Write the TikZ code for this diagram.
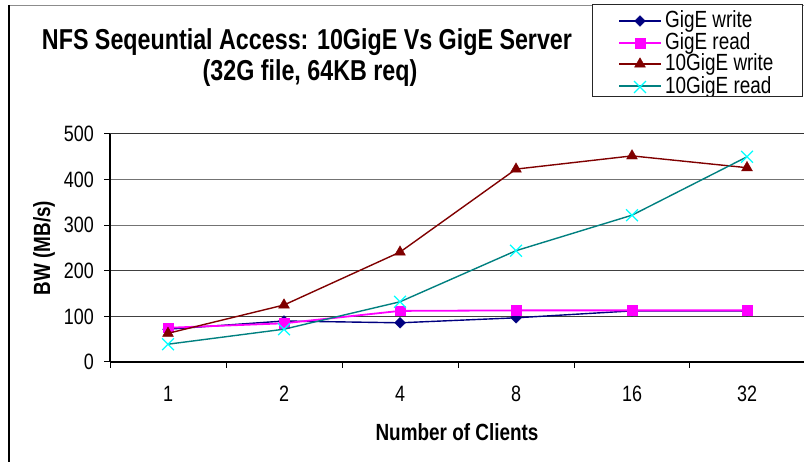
\documentclass[tikz,border=0pt]{standalone}
\usepackage{fontspec}
\usepackage{graphicx}
\setmainfont{Liberation Sans}
\usetikzlibrary{shapes.geometric,shapes.misc}
\definecolor{navyc}{RGB}{0,0,128}
\definecolor{magc}{RGB}{255,0,255}
\definecolor{redc}{RGB}{128,0,0}
\definecolor{tealc}{RGB}{0,128,128}
\definecolor{cyanc}{RGB}{0,255,255}
\newcommand{\vst}[1]{\scalebox{0.97}[1.2]{#1}}
\tikzset{
  gwmark/.style={diamond,fill=navyc,draw=navyc,inner sep=0pt,minimum width=11pt,minimum height=11pt},
  grmark/.style={rectangle,fill=magc,draw=magc,inner sep=0pt,minimum size=9.5pt},
  twmark/.style={regular polygon,regular polygon sides=3,fill=redc,draw=redc,inner sep=0pt,minimum size=12.5pt},
  trmark/.style={cross out,draw=cyanc,line width=1.3pt,inner sep=0pt,minimum size=10.5pt},
  gwline/.style={navyc,line width=1.4pt},
  grline/.style={magc,line width=1.8pt},
  twline/.style={redc,line width=1.4pt},
  trline/.style={tealc,line width=1.4pt},
  ticklab/.style={inner sep=0pt,font=\fontsize{18.5}{20}\selectfont},
  axtitle/.style={inner sep=0pt,font=\bfseries\fontsize{19.5}{22}\selectfont},
  legtext/.style={anchor=west,inner sep=0pt,font=\fontsize{19.5}{21}\selectfont},
  grid/.style={black!75,line width=0.9pt}
}
\begin{document}
\begin{tikzpicture}[x=1pt,y=-1pt]
\useasboundingbox (0,0) rectangle (804,462);
\fill[white] (0,0) rectangle (804,462);
% chart frame
\draw[black!45,line width=0.8pt] (9,5) -- (804,5);
\draw[black,line width=1.2pt] (9,5) -- (9,462);
% title
\node[inner sep=0pt,font=\bfseries\fontsize{24}{26}\selectfont] (title1) at (307,42)
  {\vst{NFS Seqeuntial Access: 10GigE Vs GigE Server}};
\node[inner sep=0pt,font=\bfseries\fontsize{24}{26}\selectfont] (title2) at (310,73)
  {\vst{(32G file, 64KB req)}};
% gridlines
\draw[grid] (110,316.4) -- (804,316.4);
\draw[grid] (110,270.8) -- (804,270.8);
\draw[black!55,line width=1.1pt] (110,225.2) -- (804,225.2);
\draw[black!55,line width=1pt] (110,179.6) -- (804,179.6);
\draw[black!80,line width=1pt] (110,133.5) -- (804,133.5);
% axes
\draw[black,line width=1.2pt] (110,134) -- (110,362);
\draw[black,line width=1.2pt] (110,362) -- (804,362);
\foreach \yy in {134,179.6,225.2,270.8,316.4,362} \draw[black,line width=1pt] (104,\yy) -- (110,\yy);
\foreach \xx in {110,226,342,458,574,689} \draw[black,line width=1pt] (\xx,362) -- (\xx,368);
% y tick labels
\node[ticklab,anchor=east] (y500) at (94,134) {\vst{500}};
\node[ticklab,anchor=east] (y400) at (94,179.6) {\vst{400}};
\node[ticklab,anchor=east] (y300) at (94,225.2) {\vst{300}};
\node[ticklab,anchor=east] (y200) at (94,270.8) {\vst{200}};
\node[ticklab,anchor=east] (y100) at (94,316.4) {\vst{100}};
\node[ticklab,anchor=east] (y0) at (94,362) {\vst{0}};
% x tick labels
\node[ticklab] (x1) at (168,394) {\vst{1}};
\node[ticklab] (x2) at (284,394) {\vst{2}};
\node[ticklab] (x4) at (400,394) {\vst{4}};
\node[ticklab] (x8) at (516,394) {\vst{8}};
\node[ticklab] (x16) at (632,394) {\vst{16}};
\node[ticklab] (x32) at (747,394) {\vst{32}};
% axis titles
\node[axtitle] (xtitle) at (457,432) {\vst{Number of Clients}};
\node[axtitle,rotate=90] (ytitle) at (44,248) {\vst{BW (MB/s)}};
% data points
\coordinate (gw1) at (168,329.2);
\coordinate (gw2) at (284,321.0);
\coordinate (gw3) at (400,322.8);
\coordinate (gw4) at (516,317.8);
\coordinate (gw5) at (632,310.9);
\coordinate (gw6) at (747,310.9);
\coordinate (gr1) at (168,327.8);
\coordinate (gr2) at (284,323.3);
\coordinate (gr3) at (400,310.9);
\coordinate (gr4) at (516,310.4);
\coordinate (gr5) at (632,310.4);
\coordinate (gr6) at (747,310.4);
\coordinate (tw1) at (168,333.3);
\coordinate (tw2) at (284,305.0);
\coordinate (tw3) at (400,252.1);
\coordinate (tw4) at (516,169.1);
\coordinate (tw5) at (632,155.9);
\coordinate (tw6) at (747,167.7);
\coordinate (tr1) at (168,344.2);
\coordinate (tr2) at (284,329.2);
\coordinate (tr3) at (400,301.8);
\coordinate (tr4) at (516,250.7);
\coordinate (tr5) at (632,215.2);
\coordinate (tr6) at (747,156.8);
% GigE write
\draw[gwline] (gw1) -- (gw2) -- (gw3) -- (gw4) -- (gw5) -- (gw6);
\foreach \i in {1,...,6} \node[gwmark] (gwm\i) at (gw\i) {};
% GigE read
\draw[grline] (gr1) -- (gr2) -- (gr3) -- (gr4) -- (gr5) -- (gr6);
\foreach \i in {1,...,6} \node[grmark] (grm\i) at (gr\i) {};
% 10GigE write
\draw[twline] (tw1) -- (tw2) -- (tw3) -- (tw4) -- (tw5) -- (tw6);
\foreach \i in {1,...,6} \node[twmark] (twm\i) at (tw\i) {};
% 10GigE read
\draw[trline] (tr1) -- (tr2) -- (tr3) -- (tr4) -- (tr5) -- (tr6);
\foreach \i in {1,...,6} \node[trmark] (trm\i) at (tr\i) {};
% legend
\fill[white] (592,5) rectangle (802,97);
\begin{scope}
\clip (592,5) rectangle (802,97);
\coordinate (la1) at (619,21); \coordinate (lb1) at (661,21);
\coordinate (la2) at (619,43); \coordinate (lb2) at (661,43);
\coordinate (la3) at (619,64); \coordinate (lb3) at (661,64);
\coordinate (la4) at (619,86); \coordinate (lb4) at (661,86);
\draw[gwline] (la1) -- (lb1); \node[gwmark] (lm1) at (640,21) {};
\draw[grline] (la2) -- (lb2); \node[grmark] (lm2) at (640,43) {};
\draw[twline] (la3) -- (lb3); \node[twmark] (lm3) at (640,64) {};
\draw[trline] (la4) -- (lb4); \node[trmark] (lm4) at (640,87) {};
\node[legtext] (lt1) at (665,21) {\vst{GigE write}};
\node[legtext] (lt2) at (665,43) {\vst{GigE read}};
\node[legtext] (lt3) at (665,64.5) {\vst{10GigE write}};
\node[legtext] (lt4) at (665,87) {\vst{10GigE read}};
\end{scope}
\draw[black!85,line width=1pt] (592,5) rectangle (802,97);
\end{tikzpicture}
\end{document}
